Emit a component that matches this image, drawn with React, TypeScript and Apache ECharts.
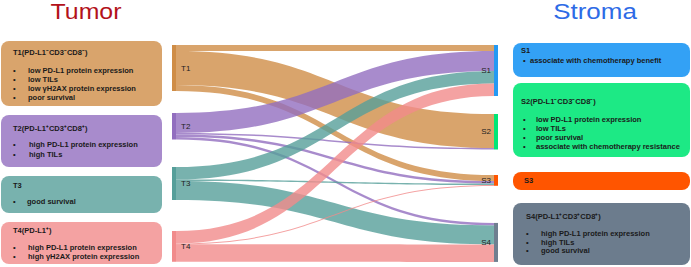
import React, { useEffect, useRef } from "react";
import * as echarts from "echarts";

// ---------- data ----------
const tumorNodes = ["T1", "T2", "T3", "T4"];
const stromaNodes = ["S1", "S2", "S3", "S4"];

const linkSources = ["T1", "T1", "T1", "T2", "T2", "T2", "T2", "T3", "T3", "T3", "T4", "T4", "T4"];
const linkTargets = ["S1", "S2", "S3", "S1", "S2", "S3", "S4", "S1", "S3", "S4", "S1", "S3", "S4"];
const linkValues = [6, 34, 6, 20, 1.5, 2.5, 2.5, 12.5, 1.5, 19, 12.5, 0.8, 17.5];

const tumorTitles = ["T1(PD-L1⁻CD3⁻CD8⁻)", "T2(PD-L1⁺CD3⁺CD8⁺)", "T3", "T4(PD-L1⁺)"];
const tumorBullets = [
  ["low PD-L1 protein expression", "low TILs", "low γH2AX protein expression", "poor survival"],
  ["high PD-L1 protein expression", "high TILs"],
  ["good survival"],
  ["high PD-L1 protein expression", "high γH2AX protein expression"],
];
const stromaTitles = ["S1", "S2(PD-L1⁻CD3⁻CD8⁻)", "S3", "S4(PD-L1⁺CD3⁺CD8⁺)"];
const stromaBullets = [
  ["associate with chemotherapy benefit"],
  ["low PD-L1 protein expression", "low TILs", "poor survival", "associate with chemotherapy resistance"],
  [],
  ["high PD-L1 protein expression", "high TILs", "good survival"],
];

// ---------- styles / layout ----------
const FONT = 'Arial, "Liberation Sans", sans-serif';
const tumorNodeColors = ["#cf8d47", "#926ebf", "#569f9a", "#f18b8b"];
const stromaNodeColors = ["#2499f3", "#00e676", "#ff5500", "#6f7f90"];
const tumorBoxColors = ["#d9a46c", "#a88bcc", "#78b2ae", "#f4a2a2"];
const stromaBoxColors = ["#33a1f5", "#1de985", "#ff5500", "#6c7c8d"];
// relative vertical node positions within the sankey area
const tumorLocalY = [0, 0.3134, 0.5622, 0.857];
const stromaLocalY = [0, 0.318, 0.599, 0.82];

// box geometry: [x, y, w, h, titleY, firstBulletY, bulletStep, bulletX, textX, titleX]
const tumorBoxLayout = [
  [1, 41, 161, 65, 52.3, 70.7, 8.9, 13, 28, 13],
  [1, 115, 161, 52, 128.3, 144.7, 9.6, 13, 29, 13],
  [1, 176, 161, 37, 185, 201.7, 9, 13, 27, 13],
  [1, 222, 161, 42, 230.7, 247.7, 9, 13, 28, 13],
];
const stromaBoxLayout = [
  [513, 43, 177, 34, 50.7, 60.7, 9, 523, 530, 521],
  [513, 83, 177, 74, 101.7, 119.3, 9.1, 523, 536, 521],
  [513, 172, 177, 18, 180.7, 0, 9, 524, 536, 524],
  [513, 203, 177, 62, 216, 233.3, 8.7, 526, 541, 526],
];

function txt(x: number, y: number, text: string, size: number, weight: string, fill: string, align = "left", vAlign = "middle") {
  return {
    type: "text",
    x,
    y,
    silent: true,
    style: {
      text,
      fill,
      fontSize: size,
      fontWeight: weight,
      fontFamily: FONT,
      textAlign: align,
      textVerticalAlign: vAlign,
    },
  };
}

function boxes(titles: string[], bullets: string[][], layout: number[][], colors: string[]) {
  const out: any[] = [];
  titles.forEach((t, i) => {
    const [x, y, w, h, ty, by, step, bx, tx, titleX] = layout[i];
    out.push({ type: "rect", shape: { x, y, width: w, height: h, r: 8 }, style: { fill: colors[i] }, silent: true });
    out.push(txt(titleX, ty, t, 7.5, "bold", "#1a1a1a"));
    bullets[i].forEach((b, j) => {
      out.push(txt(bx, by + j * step, "•", 7.5, "bold", "#1a1a1a"));
      out.push(txt(tx, by + j * step, b, 7.5, "bold", "#1a1a1a"));
    });
  });
  return out;
}

export default function App() {
  const ref = useRef<HTMLDivElement>(null);
  useEffect(() => {
    document.body.style.margin = "0";
    const chart = echarts.init(ref.current!, undefined, { renderer: "svg" });
    const nodes = [
      ...tumorNodes.map((n, i) => ({
        name: n,
        localY: tumorLocalY[i],
        itemStyle: { color: tumorNodeColors[i], borderWidth: 0 },
        label: { position: "right", distance: 5 },
      })),
      ...stromaNodes.map((n, i) => ({
        name: n,
        localY: stromaLocalY[i],
        itemStyle: { color: stromaNodeColors[i], borderWidth: 0 },
        label: { position: "left", distance: 3 },
      })),
    ];
    const links = linkSources.map((s, i) => ({ source: s, target: linkTargets[i], value: linkValues[i] }));
    const tumorTitle: any = txt(86, 0, "Tumor", 22, "normal", "#b3121a", "center", "top");
    tumorTitle.scaleX = 1.13;
    const stromaTitle: any = txt(595, 0, "Stroma", 22, "normal", "#2e6be6", "center", "top");
    stromaTitle.scaleX = 1.18;
    chart.setOption({
      animation: false,
      backgroundColor: "#ffffff",
      graphic: [
        tumorTitle,
        stromaTitle,
        ...boxes(tumorTitles, tumorBullets, tumorBoxLayout, tumorBoxColors),
        ...boxes(stromaTitles, stromaBullets, stromaBoxLayout, stromaBoxColors),
      ],
      series: [
        {
          type: "sankey",
          left: 172,
          top: 45,
          width: 326,
          height: 217,
          nodeWidth: 4,
          nodeGap: 26.9,
          layoutIterations: 0,
          draggable: false,
          data: nodes,
          links,
          label: { fontSize: 8, color: "#222", fontFamily: FONT },
          lineStyle: { color: "source", opacity: 0.8, curveness: 0.5 },
          itemStyle: { borderWidth: 0 },
          emphasis: { disabled: true },
        },
      ],
    });
    return () => chart.dispose();
  }, []);
  return <div ref={ref} style={{ width: 691, height: 267 }} />;
}
